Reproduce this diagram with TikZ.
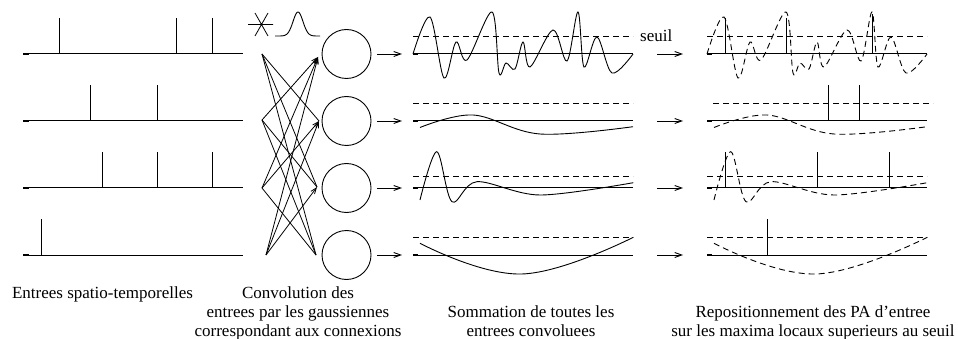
\documentclass[tikz,border=0pt]{standalone}
\usepackage{fontspec}
\setmainfont{Liberation Serif}
\usetikzlibrary{arrows.meta}
\begin{document}
\begin{tikzpicture}[x=1pt,y=-1pt,
  baseln/.style={line width=1pt},
  tick/.style={line width=2.2pt},
  spike/.style={line width=1pt},
  thr/.style={line width=0.9pt, dash pattern=on 6pt off 4pt},
  sig/.style={line width=0.9pt},
  dsig/.style={line width=0.9pt, dash pattern=on 6pt off 4pt},
  conn/.style={line width=0.8pt},
  uparr/.style={conn, -{Straight Barb[length=6pt,width=4.5pt]}},
  arr/.style={line width=0.9pt, -{Straight Barb[length=7pt,width=5pt]}},
  neuron/.style={circle, draw, line width=0.9pt, minimum size=49pt, inner sep=0pt},
  lbl/.style={font=\fontsize{17}{19}\selectfont, inner sep=0pt, align=center}
]
\useasboundingbox (0,0) rectangle (958,339);

% ---------- panel 1 : spatio-temporal inputs ----------
\foreach \y in {54,121,188,255}{
  \draw[baseln] (23,\y) -- (243,\y);
  \draw[tick] (23,\y) -- (29,\y);
}
\draw[spike] (59.5,54) -- (59.5,18) (176,54) -- (176,18) (212,54) -- (212,18);
\draw[spike] (90,121) -- (90,85) (157,121) -- (157,85);
\draw[spike] (102,188) -- (102,152) (157,188) -- (157,152) (212,188) -- (212,152);
\draw[spike] (41,255) -- (41,219);

% ---------- convolution symbol ----------
\draw[line width=0.8pt] (248,24.5) -- (273,24.5) (255,13) -- (268,36) (268,13) -- (255,36);
\draw[sig] plot[domain=-23:22, samples=90] ({298+\x},{36-24*exp(-((\x/7)*(\x/7)))});

% ---------- connections ----------
\coordinate (L1) at (262,54);
\coordinate (L2) at (262,120);
\coordinate (L3) at (262,188);
\coordinate (L4) at (266,255);
\coordinate (R1) at (318,57);
\coordinate (R2) at (319,121);
\coordinate (R3) at (317,187);
\coordinate (R4) at (316,255);
\draw[conn] (L1) -- (R2);
\draw[conn] (L1) -- (R3);
\draw[conn] (L1) -- (R4);
\draw[conn] (L2) -- (R3);
\draw[conn] (L2) -- (R4);
\draw[conn] (L3) -- (R4);
\draw[uparr] (L2) -- (R1);
\draw[uparr] (L3) -- (R1);
\draw[uparr] (L3) -- (R2);
\draw[uparr] (L4) -- (R1);
\draw[uparr] (L4) -- (R2);
\draw[uparr] (L4) -- (R3);

% ---------- neurons ----------
\node[neuron] (n1) at (346.5,54) {};
\node[neuron] (n2) at (346.5,121) {};
\node[neuron] (n3) at (346.5,188) {};
\node[neuron] (n4) at (346.5,255) {};
\coordinate (s1) at (402,54);
\coordinate (s2) at (402,121);
\coordinate (s3) at (402,188);
\coordinate (s4) at (402,255);
\draw[arr] ([xshift=6pt]n1.east) -- (s1);
\draw[arr] ([xshift=6pt]n2.east) -- (s2);
\draw[arr] ([xshift=6pt]n3.east) -- (s3);
\draw[arr] ([xshift=6pt]n4.east) -- (s4);

% ---------- panel 3 : sums ----------
\foreach \y in {54,121,188,255}{
  \draw[baseln] (413,\y) -- (633,\y);
  \draw[tick] (413,\y) -- (418,\y);
}
\draw[thr] (413,36) -- (633,36);
\draw[thr] (413,103.3) -- (633,103.3);
\draw[thr] (413,176.7) -- (633,176.7);
\draw[thr] (413,237.7) -- (633,237.7);
\node[lbl, anchor=base west] (seuil) at (640,41.5) {seuil};

\def\curveA{(413,54) (430,17) (444,78) (456,42) (467,60) (492,12) (499,73) (506,63) (515,69) (523,42) (530,67) (553,30) (567,61) (578,12) (584,67) (597,37) (612,73) (633,54)}
\def\curveB{(420,127.5) (473,115) (540,134) (633,126.7)}
\def\curveC{(420,200) (436.7,151.7) (452,201.7) (477,181.7) (540,195) (633.3,182.7)}
\def\curveD{(420,243.3) (521.7,274) (633.3,237.3)}

\draw[sig] plot[smooth, tension=0.55] coordinates {\curveA};
\draw[sig] plot[smooth, tension=0.6] coordinates {\curveB};
\draw[sig] plot[smooth, tension=0.55] coordinates {\curveC};
\draw[sig] plot[smooth, tension=0.7] coordinates {\curveD};

% arrows to panel 4
\coordinate (u1) at (657,54);
\coordinate (u2) at (657,121);
\coordinate (u3) at (657,188);
\coordinate (u4) at (657,255);
\coordinate (v1) at (683,54);
\coordinate (v2) at (683,121);
\coordinate (v3) at (683,188);
\coordinate (v4) at (683,255);
\draw[arr] (u1) -- (v1);
\draw[arr] (u2) -- (v2);
\draw[arr] (u3) -- (v3);
\draw[arr] (u4) -- (v4);

% ---------- panel 4 : repositioned spikes ----------
\foreach \y in {54,121,188,255}{
  \draw[baseln] (707,\y) -- (927,\y);
  \draw[tick] (707,\y) -- (712,\y);
}
\draw[thr] (707,36) -- (927,36);
\draw[thr] (713,103.3) -- (933,103.3);
\draw[thr] (707,176.7) -- (927,176.7);
\draw[thr] (707,237.7) -- (927,237.7);
\begin{scope}[shift={(294,0)}]
\draw[dsig] plot[smooth, tension=0.55] coordinates {\curveA};
\draw[dsig] plot[smooth, tension=0.6] coordinates {\curveB};
\draw[dsig] plot[smooth, tension=0.55] coordinates {\curveC};
\draw[dsig] plot[smooth, tension=0.7] coordinates {\curveD};
\end{scope}
\draw[spike] (725,54) -- (725,18) (786,54) -- (786,18) (872,54) -- (872,14);
\draw[spike] (828,121) -- (828,85) (859,121) -- (859,85);
\draw[spike] (725,188) -- (725,152) (817,188) -- (817,152) (889,188) -- (889,152);
\draw[spike] (767,255) -- (767,219);

% ---------- captions ----------
\node[lbl, anchor=north] (t1) at (102.5,286.4) {Entrees spatio-temporelles};
\node[lbl, anchor=north] (t2) at (298,286.4) {Convolution des\\entrees par les gaussiennes\\correspondant aux connexions};
\node[lbl, anchor=north] (t3) at (531,305.4) {Sommation de toutes les\\entrees convoluees};
\node[lbl, anchor=north] (t4) at (813,305.4) {Repositionnement des PA d’entree\\sur les maxima locaux superieurs au seuil};
\end{tikzpicture}
\end{document}
